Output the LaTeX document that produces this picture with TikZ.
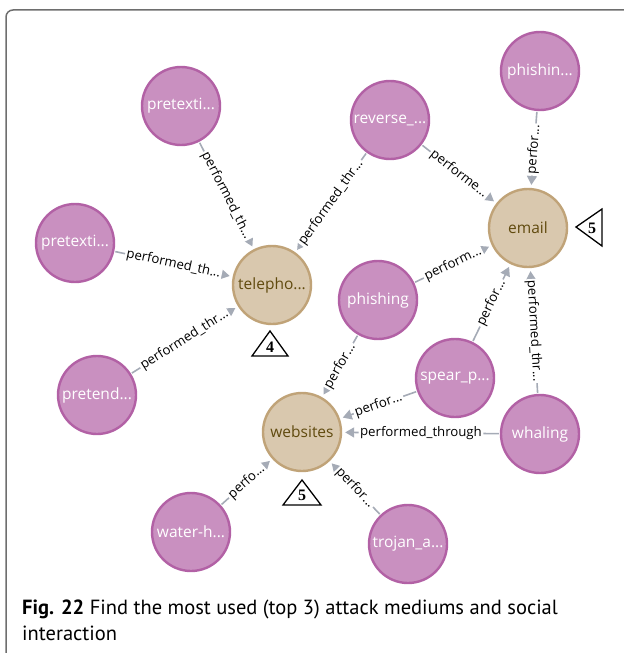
\documentclass[tikz,border=0pt]{standalone}
\usepackage{fontspec}
\setmainfont{Open Sans}
\newfontfamily\capfont{PT Sans}
\newfontfamily\numfont{Liberation Serif}
\usetikzlibrary{arrows.meta}
\definecolor{attackfill}{HTML}{C990C0}
\definecolor{attackline}{HTML}{B261A5}
\definecolor{mediumfill}{HTML}{D9C8AE}
\definecolor{mediumline}{HTML}{C0A378}
\definecolor{mediumtext}{HTML}{604A0E}
\definecolor{relgray}{HTML}{A5ABB6}
\definecolor{framegray}{HTML}{6E6E6E}
\begin{document}
\begin{tikzpicture}[x=1bp,y=1bp,
  attack/.style={circle, draw=attackline, fill=attackfill, line width=2.4bp,
    minimum size=78bp, inner sep=0pt, text=white,
    font=\fontsize{15.5bp}{18bp}\selectfont},
  medium/.style={circle, draw=mediumline, fill=mediumfill, line width=2.4bp,
    minimum size=78bp, inner sep=0pt, text=mediumtext,
    font=\fontsize{15.5bp}{18bp}\selectfont},
  rel/.style={draw=relgray, line width=1.6bp,
    -{Triangle[width=10bp,length=9bp]}, shorten >=3bp, shorten <=1bp},
  rellabel/.style={midway, sloped, fill=white, inner sep=1.5bp, text=black,
    font=\fontsize{13.2bp}{15bp}\selectfont},
  countmark/.style={draw=black, line width=1.3bp, line join=miter, fill=white},
  countnum/.style={inner sep=0pt, font=\numfont\bfseries\fontsize{16bp}{18bp}\selectfont},
]
\useasboundingbox (0,0) rectangle (624,-653);

% outer frame, open to the right and bottom
\draw[framegray, line width=1.5bp, rounded corners=7bp]
  (6,-660) -- (6,-10) -- (630,-10);

% attack techniques
\node[attack] (pretextA)  at (181,-106) {pretexti...};
\node[attack] (pretextB)  at (75,-243)  {pretexti...};
\node[attack] (pretend)   at (97,-395)  {pretend...};
\node[attack] (reverse)   at (390,-120) {reverse\_...};
\node[attack] (phishin)   at (540,-71)  {phishin...};
\node[attack] (phishing)  at (378,-300) {phishing};
\node[attack] (spear)     at (455,-378) {spear\_p...};
\node[attack] (whaling)   at (540,-434) {whaling};
\node[attack] (water)     at (191,-532) {water-h...};
\node[attack] (trojan)    at (408,-544) {trojan\_a...};

% attack mediums
\node[medium] (telepho)   at (272,-285) {telepho...};
\node[medium] (email)     at (528,-228) {email};
\node[medium] (websites)  at (302,-432) {websites};

% relations
\draw[rel] (pretextA) -- node[rellabel] {performed\_th...} (telepho);
\draw[rel] (pretextB) -- node[rellabel] {performed\_th...} (telepho);
\draw[rel] (pretend)  -- node[rellabel] {performed\_thr...} (telepho);
\draw[rel] (reverse)  -- node[rellabel] {performed\_thr...} (telepho);
\draw[rel] (reverse)  -- node[rellabel] {performe...} (email);
\draw[rel] (phishin)  -- node[rellabel] {perfor...} (email);
\draw[rel] (phishing) -- node[rellabel] {perform...} (email);
\draw[rel] (spear)    -- node[rellabel] {perfor...} (email);
\draw[rel] (whaling)  -- node[rellabel] {performed\_thr...} (email);
\draw[rel] (phishing) -- node[rellabel] {perfor...} (websites);
\draw[rel] (spear)    -- node[rellabel] {perfor...} (websites);
\draw[rel] (whaling)  -- node[rellabel] {performed\_through} (websites);
\draw[rel] (water)    -- node[rellabel] {perfo...} (websites);
\draw[rel] (trojan)   -- node[rellabel] {perfor...} (websites);

% usage counts
\draw[countmark] (270,-331) -- (288,-356) -- (252,-356) -- cycle;
\node[countnum] (count4) at (270,-347) {4};
\draw[countmark] (576,-227) -- (602,-209) -- (602,-246) -- cycle;
\node[countnum] (count5a) at (592,-228) {5};
\draw[countmark] (302,-480) -- (321,-505) -- (283,-505) -- cycle;
\node[countnum] (count5b) at (302,-495) {5};

% caption
\node[anchor=north west, inner sep=0pt, align=left, text=black,
  font=\capfont\fontsize{20.5bp}{26bp}\selectfont] (caption) at (22,-600)
  {\textbf{Fig. 22} Find the most used (top 3) attack mediums and social\\interaction};
\end{tikzpicture}
\end{document}
